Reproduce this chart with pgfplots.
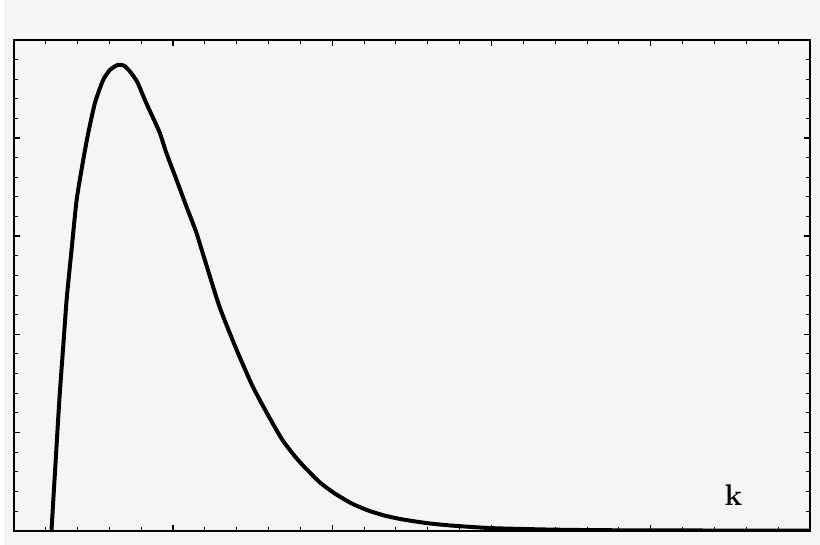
\documentclass[border=0pt]{standalone}
\usepackage{pgfplots}
\pgfplotsset{compat=1.18}
\definecolor{bg}{RGB}{245,245,245}
\begin{document}
\begin{tikzpicture}
% page background, 820 x 547 px at 0.5pt per px
\fill[bg] (0,0) rectangle (410pt,273.5pt);
\begin{axis}[
    at={(5pt,7pt)}, anchor=origin,
    scale only axis,
    width=400pt, height=246.5pt,
    xmin=0, xmax=5, ymin=0, ymax=5,
    xtick={0,1,2,3,4,5}, ytick={0,1,2,3,4,5},
    minor tick num=4,
    xticklabels={}, yticklabels={},
    tick align=inside,
    major tick length=3pt, minor tick length=2pt,
    every tick/.style={black, line width=0.7pt},
    minor tick style={line width=0.45pt},
    axis line style={black, line width=1pt},
    axis background/.style={fill=bg},
]
\addplot[black, line width=2pt, line join=round, smooth, tension=0.35] coordinates {
    (0.2375,0) (0.2625,0.680) (0.2875,1.349) (0.3125,1.907) (0.333,2.363)
    (0.364,2.870) (0.396,3.377) (0.4375,3.783) (0.469,4.057) (0.511,4.361)
    (0.5625,4.594) (0.606,4.696) (0.656,4.746) (0.694,4.736) (0.729,4.679)
    (0.775,4.574) (0.823,4.391) (0.8625,4.249) (0.917,4.054) (0.958,3.851)
    (1.021,3.580) (1.083,3.309) (1.146,3.040) (1.198,2.769) (1.292,2.282)
    (1.396,1.856) (1.5,1.471) (1.604,1.156) (1.6875,0.923) (1.769,0.750)
    (1.831,0.639) (1.925,0.487) (2.019,0.375) (2.125,0.274) (2.229,0.203)
    (2.331,0.152) (2.4375,0.115) (2.594,0.076) (2.75,0.051) (3.0,0.025)
    (3.375,0.010) (3.6875,0.004) (4.3125,0.001) (5,0)
};
\node[font=\fontsize{15}{18}\selectfont\bfseries] at (axis cs:4.519,0.36) {k};
\end{axis}
\end{tikzpicture}
\end{document}
